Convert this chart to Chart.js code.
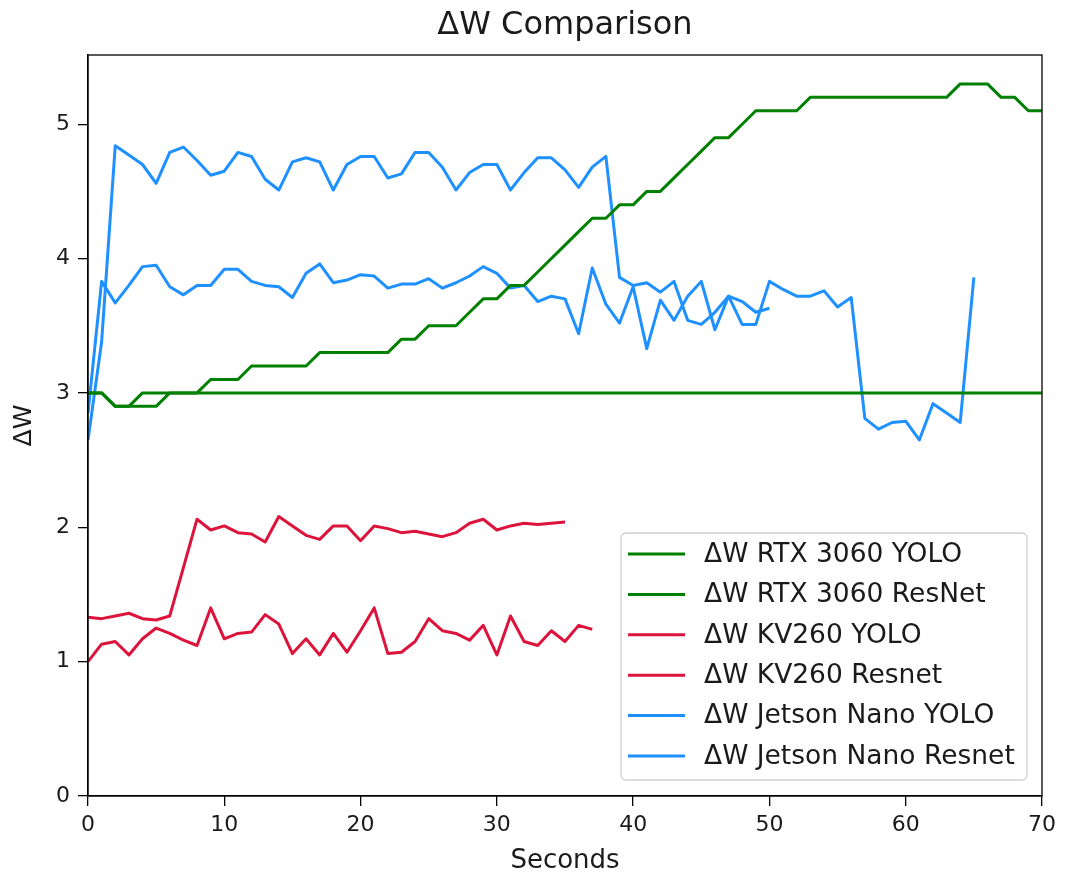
<!DOCTYPE html>
<html>
<head>
<meta charset="utf-8">
<script src="https://cdn.jsdelivr.net/npm/chart.js@4.4.1/dist/chart.umd.min.js"></script>
<style>
  body { margin: 0; background: #fff; }
  canvas { display: block; }
</style>
</head>
<body>
<canvas id="myChart" width="1067" height="880"></canvas>
<script>
// seconds on the x axis
const seconds = [0,1,2,3,4,5,6,7,8,9,10,11,12,13,14,15,16,17,18,19,20,21,22,23,24,25,26,27,28,29,
  30,31,32,33,34,35,36,37,38,39,40,41,42,43,44,45,46,47,48,49,50,51,52,53,54,55,56,57,58,59,
  60,61,62,63,64,65,66,67,68,69,70];

const rtxYolo = [3.0,3.0,2.9,2.9,2.9,2.9,3.0,3.0,3.0,3.1, 3.1,3.1,3.2,3.2,3.2,3.2,3.2,3.3,3.3,3.3,
  3.3,3.3,3.3,3.4,3.4,3.5,3.5,3.5,3.6,3.7, 3.7,3.8,3.8,3.9,4.0,4.1,4.2,4.3,4.3,4.4,
  4.4,4.5,4.5,4.6,4.7,4.8,4.9,4.9,5.0,5.1, 5.1,5.1,5.1,5.2,5.2,5.2,5.2,5.2,5.2,5.2,
  5.2,5.2,5.2,5.2,5.3,5.3,5.3,5.2,5.2,5.1, 5.1];

const rtxResnet = [3.0,3.0,2.9,2.9,3.0,3.0,3.0,3.0,3.0,3.0, 3.0,3.0,3.0,3.0,3.0,3.0,3.0,3.0,3.0,3.0,
  3.0,3.0,3.0,3.0,3.0,3.0,3.0,3.0,3.0,3.0, 3.0,3.0,3.0,3.0,3.0,3.0,3.0,3.0,3.0,3.0,
  3.0,3.0,3.0,3.0,3.0,3.0,3.0,3.0,3.0,3.0, 3.0,3.0,3.0,3.0,3.0,3.0,3.0,3.0,3.0,3.0,
  3.0,3.0,3.0,3.0,3.0,3.0,3.0,3.0,3.0,3.0, 3.0];

const kvYolo = [1.33,1.32,1.34,1.36,1.32,1.31,1.34,1.70,2.06,1.98, 2.01,1.96,1.95,1.89,2.08,2.01,1.94,1.91,2.01,2.01,
  1.90,2.01,1.99,1.96,1.97,1.95,1.93,1.96,2.03,2.06, 1.98,2.01,2.03,2.02,2.03,2.04];

const kvResnet = [1.0,1.13,1.15,1.05,1.17,1.25,1.21,1.16,1.12,1.40, 1.17,1.21,1.22,1.35,1.28,1.06,1.17,1.05,1.21,1.07,
  1.23,1.40,1.06,1.07,1.15,1.32,1.23,1.21,1.16,1.27, 1.05,1.34,1.15,1.12,1.23,1.15,1.27,1.24];

const jetsonYolo = [2.65,3.38,4.84,4.77,4.70,4.56,4.79,4.83,4.73,4.62, 4.65,4.79,4.76,4.59,4.51,4.72,4.75,4.72,4.51,4.70,
  4.76,4.76,4.60,4.63,4.79,4.79,4.68,4.51,4.64,4.70, 4.70,4.51,4.64,4.75,4.75,4.66,4.53,4.68,4.76,3.86,
  3.80,3.82,3.75,3.83,3.54,3.51,3.60,3.72,3.51,3.51, 3.83,3.77,3.72,3.72,3.76,3.64,3.71,2.81,2.73,2.78,
  2.79,2.65,2.92,2.85,2.78,3.86];

const jetsonResnet = [2.85,3.83,3.67,3.80,3.94,3.95,3.79,3.73,3.80,3.80, 3.92,3.92,3.83,3.80,3.79,3.71,3.89,3.96,3.82,3.84,
  3.88,3.87,3.78,3.81,3.81,3.85,3.78,3.82,3.87,3.94, 3.89,3.78,3.80,3.68,3.72,3.70,3.44,3.93,3.66,3.52,
  3.79,3.33,3.69,3.54,3.72,3.83,3.47,3.72,3.68,3.60, 3.63];

const chartTitle = 'ΔW Comparison';

const GREEN = '#008000', RED = '#dc143c', BLUE = '#1e90ff';
const FONT = "'DejaVu Sans', sans-serif";

function pts(arr) {
  return arr.map((v, i) => ({x: seconds[i], y: v}));
}

function line(label, arr, color) {
  return {
    label: label,
    data: pts(arr),
    borderColor: color,
    backgroundColor: color,
    borderWidth: 3,
    pointRadius: 0,
    tension: 0,
    fill: false,
    borderJoinStyle: 'round'
  };
}

// black frame round the plot, like matplotlib spines
const framePlugin = {
  id: 'frame',
  afterDatasetsDraw(chart) {
    const {ctx, chartArea: a} = chart;
    ctx.save();
    ctx.strokeStyle = '#000';
    ctx.lineWidth = 1.3;
    ctx.strokeRect(a.left, a.top, a.right - a.left, a.bottom - a.top);
    ctx.restore();
  }
};

// title centred over the plot area (not the whole canvas)
const plotTitle = {
  id: 'plotTitle',
  afterDraw(chart) {
    const {ctx, chartArea: a} = chart;
    ctx.save();
    ctx.font = '32px ' + FONT;
    ctx.fillStyle = '#1a1a1a';
    ctx.textAlign = 'center';
    ctx.textBaseline = 'middle';
    ctx.fillText(chartTitle, (a.left + a.right) / 2, 26);
    ctx.restore();
  }
};

// legend box in the lower right of the plot
const boxLegend = {
  id: 'boxLegend',
  afterDraw(chart) {
    const {ctx, chartArea: a} = chart;
    const w = 406, h = 247;
    const x = a.right - 15 - w, y = a.bottom - 16 - h;
    ctx.save();
    ctx.beginPath();
    ctx.roundRect(x, y, w, h, 5);
    ctx.fillStyle = 'rgba(255,255,255,0.85)';
    ctx.fill();
    ctx.strokeStyle = '#d0d0d0';
    ctx.lineWidth = 1.3;
    ctx.stroke();
    ctx.font = '26.5px ' + FONT;
    ctx.textBaseline = 'middle';
    chart.data.datasets.forEach((ds, i) => {
      const cy = y + 21 + i * 40.4;
      ctx.strokeStyle = ds.borderColor;
      ctx.lineWidth = 3;
      ctx.beginPath();
      ctx.moveTo(x + 7, cy);
      ctx.lineTo(x + 64, cy);
      ctx.stroke();
      ctx.fillStyle = '#1a1a1a';
      ctx.fillText(ds.label, x + 83, cy + 1);
    });
    ctx.restore();
  }
};

const ctx = document.getElementById('myChart').getContext('2d');
const myChart = new Chart(ctx, {
  type: 'line',
  data: {
    datasets: [
      line('ΔW RTX 3060 YOLO', rtxYolo, GREEN),
      line('ΔW RTX 3060 ResNet', rtxResnet, GREEN),
      line('ΔW KV260 YOLO', kvYolo, RED),
      line('ΔW KV260 Resnet', kvResnet, RED),
      line('ΔW Jetson Nano YOLO', jetsonYolo, BLUE),
      line('ΔW Jetson Nano Resnet', jetsonResnet, BLUE)
    ]
  },
  options: {
    responsive: false,
    animation: false,
    layout: { padding: { left: 0, right: 25, top: 55, bottom: 0 } },
    plugins: {
      legend: { display: false },
      tooltip: { enabled: false },
      title: { display: false }
    },
    scales: {
      x: {
        type: 'linear',
        min: 0,
        max: 70,
        afterFit(scale) { scale.height = 84; },
        ticks: { stepSize: 10, color: '#1a1a1a', font: { family: FONT, size: 22 }, padding: 6, maxRotation: 0 },
        grid: { drawOnChartArea: false, drawTicks: true, tickLength: 10, color: '#000', lineWidth: 1.3 },
        border: { color: '#000', width: 1.3 },
        title: { display: true, text: 'Seconds', color: '#1a1a1a', font: { family: FONT, size: 26 }, padding: { top: 4, bottom: 3 } }
      },
      y: {
        min: 0,
        max: 5.515,
        afterFit(scale) { scale.width = 88; },
        afterBuildTicks(scale) { scale.ticks = scale.ticks.filter(t => Number.isInteger(t.value)); },
        ticks: { stepSize: 1, color: '#1a1a1a', font: { family: FONT, size: 22 }, padding: 8 },
        grid: { drawOnChartArea: false, drawTicks: true, tickLength: 10, color: '#000', lineWidth: 1.3 },
        border: { color: '#000', width: 1.3 },
        title: { display: true, text: 'ΔW', color: '#1a1a1a', font: { family: FONT, size: 25 }, padding: { top: 9, bottom: 4 } }
      }
    }
  },
  plugins: [framePlugin, plotTitle, boxLegend]
});
</script>
</body>
</html>
